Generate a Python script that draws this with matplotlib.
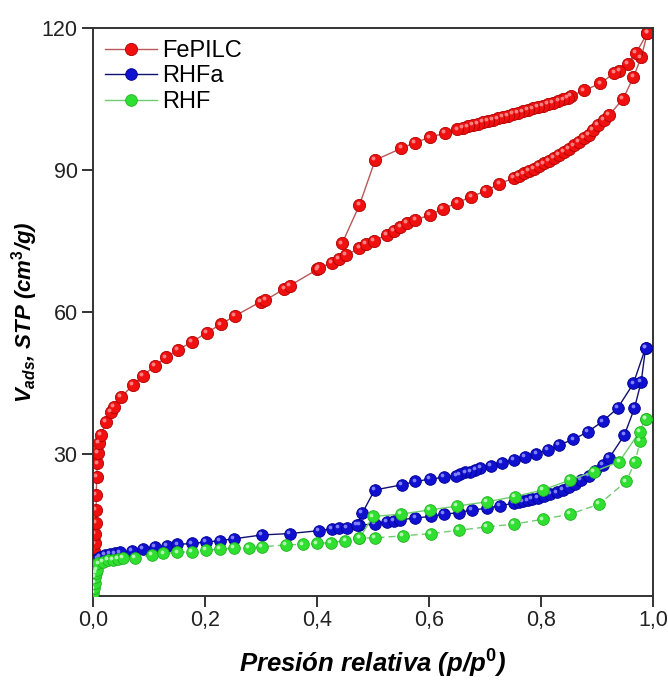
import numpy as np
import matplotlib
matplotlib.use("Agg")
import matplotlib.pyplot as plt
from matplotlib.lines import Line2D
from matplotlib.ticker import FuncFormatter
from matplotlib.transforms import ScaledTranslation

plt.rcParams['font.family'] = ['Liberation Sans', 'DejaVu Sans']
plt.rcParams['mathtext.fontset'] = 'custom'
plt.rcParams['mathtext.it'] = 'Liberation Sans:italic:bold'
plt.rcParams['mathtext.rm'] = 'Liberation Sans:bold'
plt.rcParams['mathtext.bf'] = 'Liberation Sans:bold'

# ---------------- data ----------------
series_names = ["FePILC", "RHFa", "RHF"]

fe_ads_x = [0.002, 0.003, 0.004, 0.005, 0.006, 0.006, 0.007, 0.008, 0.009, 0.011, 0.014,
            0.024, 0.032, 0.038, 0.050, 0.072, 0.089, 0.111, 0.131, 0.152, 0.177, 0.203,
            0.228, 0.254, 0.300, 0.308, 0.342, 0.352, 0.401, 0.403, 0.427, 0.439, 0.452,
            0.476, 0.488, 0.502, 0.525, 0.537, 0.549, 0.561, 0.576, 0.602, 0.625, 0.651,
            0.676, 0.702, 0.726, 0.751, 0.760, 0.769, 0.778, 0.787, 0.796, 0.805, 0.814,
            0.823, 0.832, 0.841, 0.850, 0.859, 0.868, 0.877, 0.885, 0.893, 0.901, 0.913,
            0.922, 0.947, 0.965, 0.979, 0.990]
fe_ads_y = [9.6, 11.1, 13.2, 15.4, 18.2, 21.3, 25.2, 28.0, 30.2, 32.3, 34.0,
            36.7, 38.9, 40.0, 42.0, 44.6, 46.5, 48.7, 50.4, 52.0, 53.7, 55.6,
            57.4, 59.2, 62.2, 62.5, 64.9, 65.6, 69.0, 69.3, 70.4, 71.3, 72.0,
            73.5, 74.4, 75.1, 76.3, 77.1, 77.9, 78.8, 79.5, 80.5, 81.8, 83.1,
            84.4, 85.6, 87.1, 88.3, 88.8, 89.3, 89.8, 90.3, 90.9, 91.4, 92.0,
            92.6, 93.2, 93.8, 94.5, 95.2, 95.9, 96.7, 97.5, 98.5, 99.5, 100.6,
            101.6, 105.1, 109.6, 113.8, 118.9]
fe_des_x = [0.990, 0.970, 0.955, 0.940, 0.931, 0.906, 0.877, 0.853, 0.848, 0.840, 0.831,
            0.822, 0.813, 0.804, 0.795, 0.786, 0.777, 0.768, 0.759, 0.750, 0.741, 0.732,
            0.723, 0.714, 0.705, 0.696, 0.687, 0.678, 0.669, 0.660, 0.651, 0.628, 0.602,
            0.575, 0.551, 0.504, 0.476, 0.445]
fe_des_y = [118.9, 114.8, 112.5, 111.0, 110.5, 108.3, 106.8, 105.6, 105.3, 104.9, 104.6,
            104.2, 103.9, 103.6, 103.3, 103.0, 102.7, 102.4, 102.1, 101.8, 101.5, 101.2,
            100.9, 100.6, 100.3, 100.1, 99.8, 99.5, 99.2, 98.9, 98.6, 97.8, 96.9,
            95.8, 94.6, 92.1, 82.6, 74.5]

rhfa_ads_x = [0.002, 0.004, 0.008, 0.013, 0.021, 0.030, 0.039, 0.048, 0.069, 0.090, 0.111,
              0.132, 0.151, 0.177, 0.202, 0.227, 0.252, 0.302, 0.352, 0.403, 0.427, 0.439,
              0.453, 0.476, 0.503, 0.525, 0.537, 0.549, 0.576, 0.603, 0.627, 0.653, 0.677,
              0.703, 0.727, 0.752, 0.760, 0.768, 0.776, 0.784, 0.795, 0.806, 0.817, 0.828,
              0.839, 0.850, 0.861, 0.871, 0.885, 0.897, 0.910, 0.922, 0.949, 0.967, 0.979,
              0.987]
rhfa_ads_y = [5.0, 7.0, 7.9, 8.3, 8.7, 8.9, 9.0, 9.2, 9.5, 9.9, 10.3,
              10.6, 10.9, 11.1, 11.4, 11.7, 12.1, 12.9, 13.2, 13.8, 14.2, 14.4,
              14.4, 15.0, 15.2, 15.6, 15.8, 16.1, 16.5, 16.8, 17.3, 17.6, 18.2,
              18.5, 19.1, 19.6, 19.8, 20.0, 20.2, 20.5, 20.8, 21.1, 21.5, 21.9,
              22.4, 23.0, 23.7, 24.5, 25.4, 26.4, 27.7, 29.2, 34.0, 39.7, 45.3,
              52.5]
rhfa_des_x = [0.987, 0.965, 0.937, 0.910, 0.884, 0.858, 0.832, 0.812, 0.792, 0.772, 0.751,
              0.731, 0.711, 0.692, 0.683, 0.674, 0.665, 0.656, 0.649, 0.627, 0.602, 0.576,
              0.552, 0.503, 0.481, 0.472]
rhfa_des_y = [52.5, 44.9, 39.7, 36.9, 34.7, 33.1, 31.9, 30.8, 30.1, 29.4, 28.7,
              28.2, 27.5, 27.0, 26.6, 26.3, 26.1, 25.7, 25.4, 25.1, 24.7, 24.2,
              23.5, 22.4, 17.5, 15.0]

rhf_ads_x = [0.001, 0.002, 0.003, 0.004, 0.005, 0.007, 0.010, 0.018, 0.027, 0.036, 0.045,
             0.054, 0.075, 0.105, 0.126, 0.151, 0.177, 0.202, 0.227, 0.252, 0.278, 0.302,
             0.345, 0.375, 0.400, 0.425, 0.451, 0.476, 0.503, 0.553, 0.604, 0.654, 0.703,
             0.752, 0.803, 0.852, 0.904, 0.952, 0.968, 0.977, 0.987]
rhf_ads_y = [0.6, 1.6, 2.8, 4.1, 4.8, 5.5, 6.9, 7.2, 7.6, 7.7, 7.8,
             8.0, 8.1, 8.7, 9.0, 9.2, 9.4, 9.7, 9.9, 10.1, 10.2, 10.4,
             10.8, 10.9, 11.1, 11.3, 11.7, 12.2, 12.3, 12.7, 13.2, 13.9, 14.6,
             15.2, 16.2, 17.3, 19.4, 24.2, 28.3, 32.7, 37.5]
rhf_des_x = [0.987, 0.976, 0.940, 0.895, 0.852, 0.803, 0.753, 0.703, 0.650, 0.602, 0.550,
             0.500, 0.476]
rhf_des_y = [37.5, 34.7, 28.4, 26.3, 24.5, 22.4, 21.0, 19.9, 19.0, 18.2, 17.3,
             16.8, 12.2]

x_ticks = [0.0, 0.2, 0.4, 0.6, 0.8, 1.0]
y_ticks = [30, 60, 90, 120]

# ---------------- style ----------------
styles = {
    "FePILC": dict(face="#f01010", edge="#b00000", hi="#ff8c8c", line="#b85858", ms=8.8),
    "RHFa":   dict(face="#1010d0", edge="#000090", hi="#8c8cff", line="#101070", ms=8.4),
    "RHF":    dict(face="#30e030", edge="#20b020", hi="#c0ffc0", line="#70cc70", ms=8.4),
}

fig = plt.figure(figsize=(6.68, 6.80), dpi=100)
ax = fig.add_axes([0.139, 0.1235, 0.8385, 0.8353])
hl_trans = ax.transData + ScaledTranslation(-1.3 / 72, 1.3 / 72, fig.dpi_scale_trans)

def draw(name, ax_x, ax_y, ds_x, ds_y, ads_ls, z):
    s = styles[name]
    ax.plot(ax_x, ax_y, ls=ads_ls, color=s["line"], lw=1.0, zorder=z)
    ax.plot(ds_x, ds_y, ls='-', color=s["line"], lw=1.0, zorder=z)
    allx = list(ax_x) + list(ds_x)
    ally = list(ax_y) + list(ds_y)
    ax.plot(allx, ally, ls='none', marker='o', ms=s["ms"], mfc=s["face"],
            mec=s["edge"], mew=0.6, zorder=z + 0.1)
    ax.plot(allx, ally, ls='none', marker='o', ms=s["ms"] * 0.32, mfc=s["hi"],
            mec='none', alpha=0.9, zorder=z + 0.2, transform=hl_trans)

assert len(fe_ads_x) == len(fe_ads_y) and len(fe_des_x) == len(fe_des_y)
assert len(rhfa_ads_x) == len(rhfa_ads_y) and len(rhfa_des_x) == len(rhfa_des_y)
assert len(rhf_ads_x) == len(rhf_ads_y) and len(rhf_des_x) == len(rhf_des_y)

draw("FePILC", fe_ads_x, fe_ads_y, fe_des_x, fe_des_y, '-', 2)
draw("RHFa", rhfa_ads_x, rhfa_ads_y, rhfa_des_x, rhfa_des_y, '-', 3)
draw("RHF", rhf_ads_x, rhf_ads_y, rhf_des_x, rhf_des_y, (0, (5, 3)), 4)

ax.set_xlim(0, 1.0)
ax.set_ylim(0, 120)
ax.set_xticks(x_ticks)
ax.set_yticks(y_ticks)
ax.xaxis.set_major_formatter(FuncFormatter(lambda v, p: f"{v:.1f}".replace('.', ',')))
ax.yaxis.set_major_formatter(FuncFormatter(lambda v, p: f"{int(v)}"))
ax.tick_params(axis='both', direction='out', length=8, width=1.3, labelsize=15.5,
               colors='#222222')
ax.tick_params(axis='y', pad=3)
ax.tick_params(axis='x', pad=2)
for sp in ax.spines.values():
    sp.set_linewidth(1.4)
    sp.set_color('#333333')

ax.set_xlabel("Presión relativa (p/p$^{0}$)", fontsize=18.5,
              fontweight='bold', fontstyle='italic', labelpad=12)
ax.set_ylabel("$V_{ads}$, STP (cm$^{3}$/g)", fontsize=16,
              fontweight='bold', fontstyle='italic', labelpad=1)

handles = []
for name in series_names:
    s = styles[name]
    handles.append(Line2D([], [], color=s["line"], lw=1.0, marker='o', ms=s["ms"],
                          mfc=s["face"], mec=s["edge"], mew=0.6))
ax.legend(handles, series_names, loc='upper left', frameon=False, fontsize=17,
          handlelength=2.2, handletextpad=0.25, labelspacing=0.15,
          borderaxespad=0.3, borderpad=0.2)

fig.savefig("out.png", dpi=100)
